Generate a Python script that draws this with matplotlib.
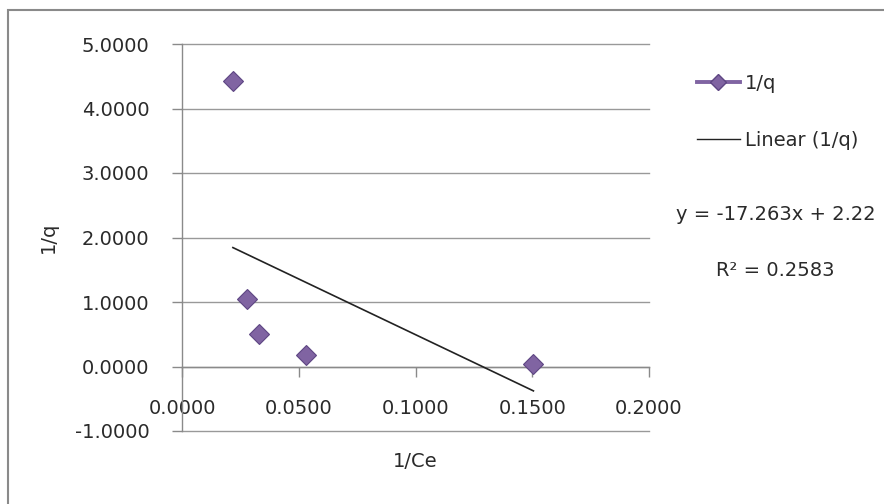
import matplotlib
matplotlib.use("Agg")
import matplotlib.pyplot as plt
from matplotlib.lines import Line2D
from matplotlib.patches import Rectangle
import numpy as np

# data
inv_ce = [0.0218, 0.0277, 0.0331, 0.0531, 0.1505]
inv_q = [4.42, 1.04, 0.51, 0.175, 0.04]
slope = -17.263
intercept = 2.22
r2 = 0.2583
x_ticks = [0.0, 0.05, 0.10, 0.15, 0.20]
y_ticks = [-1, 0, 1, 2, 3, 4, 5]

plt.rcParams['font.family'] = ['DejaVu Sans']
FS = 14
PURPLE = '#8064A2'
PURPLE_E = '#5E4683'
GRAY = '#8a8a8a'
TXT = '#2a2a2a'

fig = plt.figure(figsize=(8.84, 5.04), dpi=100)
fig.patch.set_facecolor('white')

L, R, T, B = 182, 649, 44, 431
ax = fig.add_axes([L / 884, 1 - B / 504, (R - L) / 884, (B - T) / 504])
ax.set_xlim(0, 0.2)
ax.set_ylim(-1, 5)

# scatter points
ax.plot(inv_ce, inv_q, linestyle='none', marker='D', markersize=10.5,
        markerfacecolor=PURPLE, markeredgecolor=PURPLE_E, markeredgewidth=0.8,
        zorder=4, label='1/q')

# linear trendline
xs = np.array([min(inv_ce), max(inv_ce)])
ax.plot(xs, slope * xs + intercept, color='#222222', lw=1.2, zorder=3,
        label='Linear (1/q)')

# axes styling
for s in ['top', 'right']:
    ax.spines[s].set_visible(False)
ax.spines['bottom'].set_position(('data', 0))
ax.spines['left'].set_color(GRAY)
ax.spines['bottom'].set_color(GRAY)
ax.spines['left'].set_linewidth(1.0)
ax.spines['bottom'].set_linewidth(1.0)

ax.set_yticks(y_ticks)
ax.set_yticklabels([f'{v:.4f}' for v in y_ticks])
ax.set_xticks(x_ticks)
ax.set_xticklabels([f'{v:.4f}' for v in x_ticks])
ax.tick_params(axis='y', direction='out', length=7.5, width=1.0, color=GRAY,
               pad=16, labelsize=FS, labelcolor=TXT)
ax.tick_params(axis='x', direction='out', length=7.5, width=1.0, color=GRAY,
               pad=16, labelsize=FS, labelcolor=TXT)

ax.yaxis.grid(True, color='#999999', lw=1.0)
ax.set_axisbelow(True)
for gl in ax.get_ygridlines():
    gl.set_clip_on(False)

ax.set_xlabel('1/Ce', fontsize=FS, color=TXT)
ax.xaxis.set_label_coords(0.499, -0.055)
ax.set_ylabel('1/q', fontsize=FS, color=TXT, va='center')
ax.yaxis.set_label_coords(-0.287, 0.5)

# legend
h1 = Line2D([], [], color=PURPLE, lw=2.8, marker='D', markersize=8,
            markerfacecolor=PURPLE, markeredgecolor=PURPLE_E)
h2 = Line2D([], [], color='#222222', lw=1.0)
leg = fig.legend([h1, h2], ['1/q', 'Linear (1/q)'], loc='upper left',
                 bbox_to_anchor=(697 / 884, 1 - 74 / 504),
                 bbox_transform=fig.transFigure, frameon=False,
                 fontsize=FS, handlelength=2.2, handletextpad=0.25,
                 borderpad=0, borderaxespad=0, labelspacing=1.95)
for t in leg.get_texts():
    t.set_color(TXT)

fig.text(776 / 884, 1 - 215 / 504, f'y = {slope}x + {intercept}',
         ha='center', va='center', fontsize=FS, color=TXT)
fig.text(775 / 884, 1 - 270 / 504, f'R² = {r2}',
         ha='center', va='center', fontsize=FS, color=TXT)

# chart border
fig.patches.append(Rectangle((8 / 884, -0.1), 1.2, 1.1 - 10 / 504,
                             transform=fig.transFigure, fill=False,
                             edgecolor=GRAY, lw=1.5))

fig.savefig('out.png', dpi=100)
